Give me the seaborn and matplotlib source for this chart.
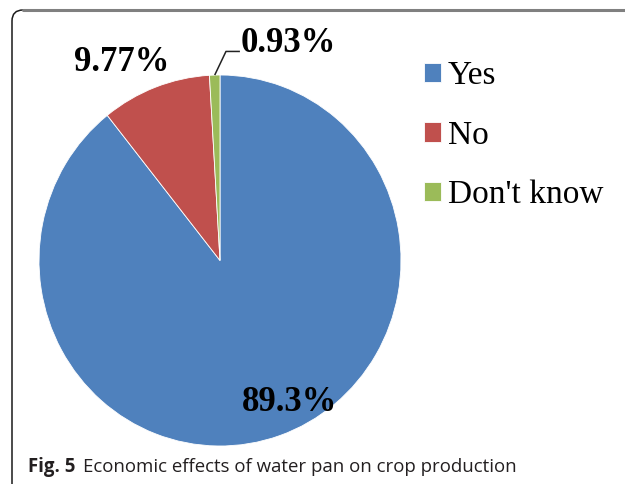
import matplotlib
matplotlib.use("Agg")
import matplotlib.pyplot as plt
import matplotlib.transforms as mtransforms
from matplotlib.patches import FancyBboxPatch
from matplotlib.lines import Line2D
import numpy as np
import seaborn as sns

# ---- data ----
categories = ["Yes", "No", "Don't know"]
shares = [89.3, 9.77, 0.93]
value_labels = ["89.3%", "9.77%", "0.93%"]
caption_bold = "Fig. 5"
caption_text = "Economic effects of water pan on crop production"

sns.set_theme(style="white")
plt.rcParams['font.family'] = ['Liberation Serif', 'DejaVu Serif']
plt.rcParams['text.color'] = 'black'
colors = sns.color_palette(["#4F81BD", "#C0504D", "#9BBB59"])

W, H = 625, 484
fig = plt.figure(figsize=(W / 100, H / 100), dpi=100)
fig.patch.set_facecolor("white")
ax = fig.add_axes([0, 0, 1, 1])

# pie geometry in pixels (center, radii)
cx, cy, rx, ry = 220, 260.5, 181, 185.5
wedges, _ = ax.pie(shares, colors=colors, startangle=90, counterclock=False,
                   radius=1, center=(0, 0),
                   wedgeprops=dict(edgecolor="white", linewidth=0.6))
ax.set_aspect("auto")
ax.set_xlim(-cx / rx, (W - cx) / rx)
ax.set_ylim(-(H - cy) / ry, cy / ry)
ax.axis("off")

def mid_point(w, r):
    t = np.deg2rad((w.theta1 + w.theta2) / 2)
    return r * np.cos(t), r * np.sin(t)

label_font = dict(fontsize=25, fontweight="bold", color="black",
                  ha="center", va="center")
# label placements
ax.text(0.383, -0.763, value_labels[0], **label_font)
ax.text(-0.545, 1.070, value_labels[1], **label_font)
ax.text(0.378, 1.172, value_labels[2], **label_font)
# leader line for the small slice
x0, y0 = mid_point(wedges[2], 1.0)
ax.plot([x0, 0.033, 0.110], [y0, 1.127, 1.127], color="#222222", lw=1.1,
        solid_capstyle="butt", clip_on=False)

# legend
leg = fig.legend(wedges, categories, loc="upper left",
                 bbox_to_anchor=(424 / W, 1 - 61 / H), frameon=False, fontsize=24,
                 handlelength=0.52, handleheight=0.52, handletextpad=0.2,
                 labelspacing=0.865, borderpad=0, borderaxespad=0)
for t in leg.get_texts():
    t.set_color("black")

# frame
ident = mtransforms.IdentityTransform()
frame = FancyBboxPatch((12, -60), 700, H - 10 + 60,
                       boxstyle="round,pad=0,rounding_size=11",
                       transform=ident, facecolor="none",
                       edgecolor="#1a1a1a", linewidth=1.1)
fig.add_artist(frame)
fig.add_artist(Line2D([23, 700], [H - 10, H - 10], transform=ident,
                      color="#808080", linewidth=2.2))

# caption
t1 = fig.text(28 / W, 1 - 472 / H, caption_bold, fontfamily=["Open Sans", "DejaVu Sans"],
              fontweight="bold", fontsize=13.4, color="#231f20", va="baseline")
fig.canvas.draw()
bb = t1.get_window_extent(renderer=fig.canvas.get_renderer())
fig.text((bb.x1 + 8) / W, 1 - 472 / H, caption_text,
         fontfamily=["Open Sans", "DejaVu Sans"], fontsize=13.4,
         color="#231f20", va="baseline")

fig.savefig("out.png", dpi=100, facecolor="white")
